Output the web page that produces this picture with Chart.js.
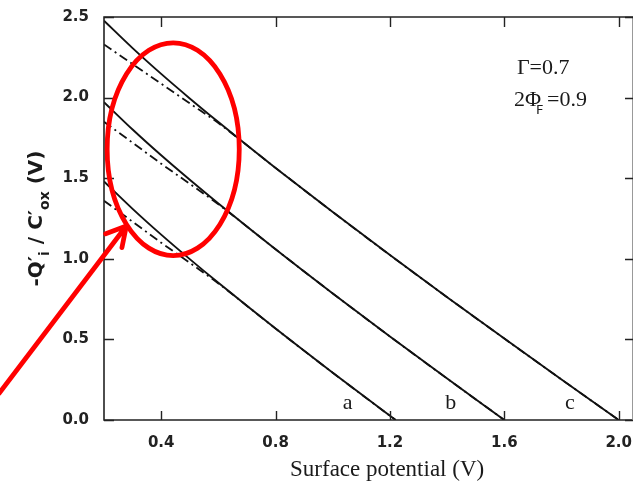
<!DOCTYPE html>
<html>
<head>
<meta charset="utf-8">
<script src="https://cdn.jsdelivr.net/npm/chart.js@4.4.1/dist/chart.umd.min.js"></script>
<style>
  html, body { margin: 0; padding: 0; background: #fff; }
</style>
</head>
<body>
<canvas id="qiChart" width="634" height="481"></canvas>
<script>
// surface potential (V) sample points for each gate bias
const potA = [0.2, 0.3, 0.4, 0.5, 0.6, 0.8, 1.0, 1.2, 1.22];
const potB = [0.2, 0.3, 0.4, 0.5, 0.6, 0.8, 1.0, 1.2, 1.4, 1.6];
const potC = [0.2, 0.3, 0.4, 0.5, 0.6, 0.7, 0.8, 1.0, 1.2, 1.4, 1.6, 1.8, 2.0];

// -Q'i / C'ox (V), full expression (solid)
const solidA = [1.480, 1.310, 1.150, 0.998, 0.851, 0.567, 0.293, 0.026, 0.0];
const solidB = [1.972, 1.802, 1.642, 1.490, 1.343, 1.059, 0.785, 0.518, 0.257, 0.0];
const solidC = [2.477, 2.307, 2.147, 1.995, 1.848, 1.704, 1.564, 1.290, 1.023, 0.762, 0.505, 0.251, 0.0];

// approximation (dash-dot)
const approxA = [1.360, 1.230, 1.100, 0.975, 0.847, 0.567, 0.293, 0.026, 0.0];
const approxB = [1.850, 1.720, 1.590, 1.465, 1.338, 1.059, 0.785, 0.518, 0.257, 0.0];
const approxC = [2.330, 2.208, 2.086, 1.964, 1.842, 1.704, 1.564, 1.290, 1.023, 0.762, 0.505, 0.251, 0.0];

const curveNames = ['a', 'b', 'c'];
const xTicks = [0.4, 0.8, 1.2, 1.6, 2.0];
const yTicks = [0.0, 0.5, 1.0, 1.5, 2.0, 2.5];

const pts = (xs, ys) => xs.map((v, i) => ({ x: v, y: ys[i] }));

const INK = '#111';
const dashDot = [9, 4, 2, 4];

function curve(label, xs, ys, dashed) {
    return {
        label: label,
        data: pts(xs, ys),
        borderColor: INK,
        borderWidth: dashed ? 1.8 : 1.9,
        borderDash: dashed ? dashDot : [],
        pointRadius: 0,
        cubicInterpolationMode: 'monotone',
        fill: false
    };
}

const datasets = [
    curve('a approx', potA, approxA, true),
    curve('b approx', potB, approxB, true),
    curve('c approx', potC, approxC, true),
    curve('a', potA, solidA, false),
    curve('b', potB, solidB, false),
    curve('c', potC, solidC, false)
];

// box frame with inward tick marks on all four sides
const frameTicks = {
    id: 'frameTicks',
    afterDatasetsDraw(chart) {
        const { ctx, chartArea: { left, right, top, bottom }, scales: { x, y } } = chart;
        ctx.save();
        ctx.strokeStyle = '#222';
        ctx.lineWidth = 1.6;
        ctx.beginPath();
        ctx.moveTo(right, top);
        ctx.lineTo(left, top);
        ctx.lineTo(left, bottom);
        ctx.lineTo(right, bottom);
        ctx.stroke();
        ctx.strokeStyle = '#999';
        ctx.lineWidth = 1;
        ctx.beginPath();
        ctx.moveTo(right - 0.5, top);
        ctx.lineTo(right - 0.5, bottom);
        ctx.stroke();

        ctx.strokeStyle = '#222';
        ctx.lineWidth = 1.4;
        ctx.beginPath();
        xTicks.forEach(v => {
            const px = Math.round(x.getPixelForValue(v)) + 0.5;
            ctx.moveTo(px, bottom); ctx.lineTo(px, bottom - 9);
            ctx.moveTo(px, top); ctx.lineTo(px, top + 10);
        });
        yTicks.forEach(v => {
            const py = Math.round(y.getPixelForValue(v)) + 0.5;
            ctx.moveTo(left, py); ctx.lineTo(left + 10, py);
            ctx.moveTo(right, py); ctx.lineTo(right - 8, py);
        });
        ctx.stroke();
        ctx.restore();
    }
};

// axis titles, parameter note and curve letters
const figureText = {
    id: 'figureText',
    afterDraw(chart) {
        const { ctx, chartArea: { top, bottom }, scales: { x, y } } = chart;
        ctx.save();
        ctx.fillStyle = '#1a1a1a';
        ctx.textBaseline = 'alphabetic';

        // x title
        ctx.font = '23px "Liberation Serif"';
        ctx.textAlign = 'center';
        ctx.fillText('Surface potential (V)', x.getPixelForValue(1.19), bottom + 56);

        // y title with primes and subscripts
        const main = 'bold 20px "DejaVu Sans"';
        const sub = 'bold 14px "DejaVu Sans"';
        const parts = [
            ['-Q\u2032', main, 0],
            ['i', sub, 7],
            [' / C\u2032', main, 0],
            ['ox', sub, 7],
            [' (V)', main, 0]
        ];
        let total = 0;
        parts.forEach(p => { ctx.font = p[1]; total += ctx.measureText(p[0]).width; });
        ctx.translate(42, (top + bottom) / 2);
        ctx.rotate(-Math.PI / 2);
        ctx.textAlign = 'left';
        let cx = -total / 2;
        parts.forEach(p => {
            ctx.font = p[1];
            ctx.fillText(p[0], cx, p[2]);
            cx += ctx.measureText(p[0]).width;
        });
        ctx.setTransform(1, 0, 0, 1, 0, 0);

        // parameters
        ctx.font = '22px "Liberation Serif"';
        ctx.textAlign = 'left';
        ctx.textBaseline = 'middle';
        const gx = x.getPixelForValue(1.644);
        ctx.fillText('\u0393=0.7', gx, y.getPixelForValue(2.18));
        const py = y.getPixelForValue(1.985);
        ctx.fillText('2\u03A6', gx - 3, py);
        const phiW = ctx.measureText('2\u03A6').width;
        ctx.fillText('=0.9', gx - 3 + phiW + 6, py);
        ctx.font = '13px "DejaVu Sans"';
        ctx.fillText('F', gx - 3 + phiW - 5, py + 11);

        // curve letters
        ctx.font = '22px "Liberation Serif"';
        ctx.textAlign = 'center';
        const letterX = [1.052, 1.413, 1.829];
        curveNames.forEach((n, i) => {
            ctx.fillText(n, x.getPixelForValue(letterX[i]), y.getPixelForValue(0.105));
        });
        ctx.restore();
    }
};

// red highlight ring and pointer arrow
const highlight = {
    id: 'highlight',
    afterDraw(chart) {
        const { ctx, scales: { x, y } } = chart;
        ctx.save();
        ctx.strokeStyle = '#f00';
        ctx.lineWidth = 4.8;
        ctx.lineCap = 'round';
        const cx = x.getPixelForValue(0.442), cy = y.getPixelForValue(1.68);
        const rx = x.getPixelForValue(0.442 + 0.231) - cx;
        const ry = cy - y.getPixelForValue(1.68 + 0.66);
        ctx.beginPath();
        ctx.ellipse(cx, cy, rx, ry, 0, 0, Math.PI * 2);
        ctx.stroke();

        const tx = x.getPixelForValue(0.278), ty = y.getPixelForValue(1.203);
        const sx = x.getPixelForValue(-0.166), sy = y.getPixelForValue(0.167);
        ctx.beginPath();
        ctx.moveTo(sx, sy);
        ctx.lineTo(tx, ty);
        const back = Math.atan2(sy - ty, sx - tx);
        [0.56, -0.45].forEach(d => {
            ctx.moveTo(tx, ty);
            ctx.lineTo(tx + 22 * Math.cos(back + d), ty + 22 * Math.sin(back + d));
        });
        ctx.stroke();
        ctx.restore();
    }
};

function noEdgePadding(axis) {
    axis.paddingLeft = 0;
    axis.paddingRight = 0;
    axis.paddingTop = 0;
    axis.paddingBottom = 0;
}

new Chart(document.getElementById('qiChart'), {
    type: 'line',
    data: { datasets },
    plugins: [frameTicks, figureText, highlight],
    options: {
        responsive: false,
        animation: false,
        devicePixelRatio: 1,
        layout: { padding: { left: 0, right: 1, top: 17, bottom: 0 } },
        plugins: { legend: { display: false }, tooltip: { enabled: false } },
        scales: {
            x: {
                type: 'linear',
                min: 0.2,
                max: 2.05,
                afterBuildTicks: axis => { axis.ticks = xTicks.map(v => ({ value: v })); },
                afterFit: axis => { axis.height = 61; noEdgePadding(axis); },
                grid: { display: false, drawTicks: false },
                border: { display: false },
                ticks: {
                    padding: 14,
                    maxRotation: 0,
                    color: '#222',
                    font: { family: 'DejaVu Sans', size: 15, weight: 'bold' },
                    callback: v => v.toFixed(1)
                }
            },
            y: {
                type: 'linear',
                min: 0,
                max: 2.5,
                afterBuildTicks: axis => { axis.ticks = yTicks.map(v => ({ value: v })); },
                afterFit: axis => { axis.width = 104; noEdgePadding(axis); },
                grid: { display: false, drawTicks: false },
                border: { display: false },
                ticks: {
                    padding: 15,
                    color: '#222',
                    font: { family: 'DejaVu Sans', size: 15, weight: 'bold' },
                    callback: v => v.toFixed(1)
                }
            }
        }
    }
});
</script>
</body>
</html>
